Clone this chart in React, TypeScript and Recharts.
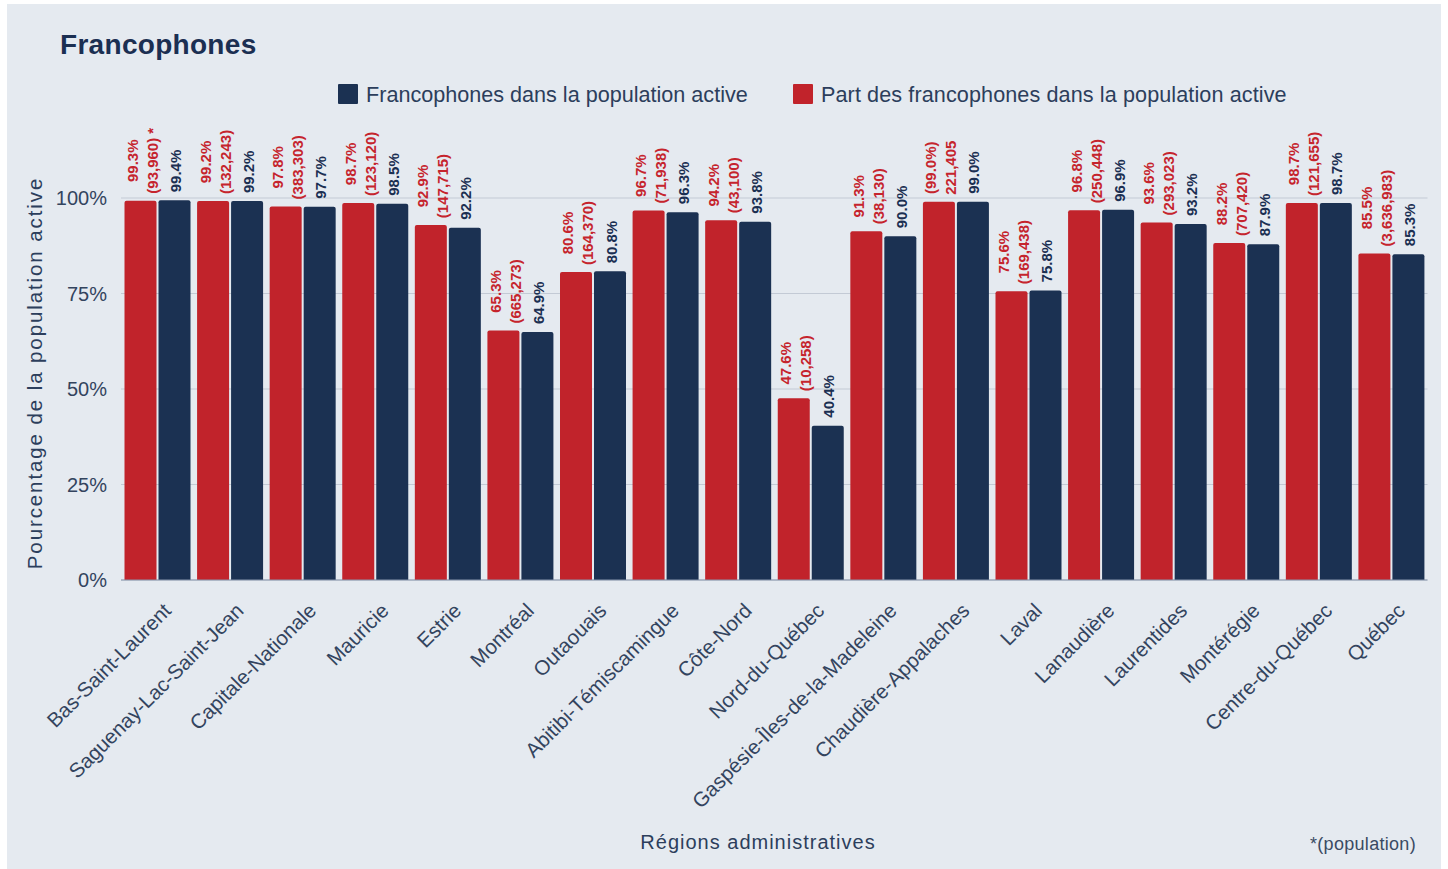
import React from 'react';
import { BarChart, Bar, XAxis, YAxis, CartesianGrid, LabelList } from 'recharts';

const regions = [
  'Bas-Saint-Laurent', 'Saguenay-Lac-Saint-Jean', 'Capitale-Nationale', 'Mauricie', 'Estrie',
  'Montréal', 'Outaouais', 'Abitibi-Témiscamingue', 'Côte-Nord', 'Nord-du-Québec',
  'Gaspésie-Îles-de-la-Madeleine', 'Chaudière-Appalaches', 'Laval', 'Lanaudière', 'Laurentides',
  'Montérégie', 'Centre-du-Québec', 'Québec',
];
const partValues = [99.3, 99.2, 97.8, 98.7, 92.9, 65.3, 80.6, 96.7, 94.2, 47.6, 91.3, 99.0, 75.6, 96.8, 93.6, 88.2, 98.7, 85.5];
const francoValues = [99.4, 99.2, 97.7, 98.5, 92.2, 64.9, 80.8, 96.3, 93.8, 40.4, 90.0, 99.0, 75.8, 96.9, 93.2, 87.9, 98.7, 85.3];
const partLine1 = ['99.3%', '99.2%', '97.8%', '98.7%', '92.9%', '65.3%', '80.6%', '96.7%', '94.2%', '47.6%', '91.3%', '(99.0%)', '75.6%', '96.8%', '93.6%', '88.2%', '98.7%', '85.5%'];
const partLine2 = ['(93,960) *', '(132,243)', '(383,303)', '(123,120)', '(147,715)', '(665,273)', '(164,370)', '(71,938)', '(43,100)', '(10,258)', '(38,130)', '221,405', '(169,438)', '(250,448)', '(293,023)', '(707,420)', '(121,655)', '(3,636,983)'];
const yTicks = [0, 25, 50, 75, 100];

const RED = '#c1232b';
const NAVY = '#1b3152';
const RED_TEXT = '#c5242d';
const NAVY_TEXT = '#1b2f52';
const AXIS_TEXT = '#33445e';
const FONT = "'Liberation Sans', Arial, Helvetica, sans-serif";
const LABEL_FONT_SIZE = 15;

const data = regions.map((r, i) => ({
  region: r,
  part: partValues[i],
  franco: francoValues[i],
  l1: partLine1[i],
  l2: partLine2[i],
  fl: `${francoValues[i].toFixed(1)}%`,
}));

let ctx: CanvasRenderingContext2D | null = null;
const measure = (s: string) => {
  if (typeof document === 'undefined') return s.length * 8;
  if (!ctx) ctx = document.createElement('canvas').getContext('2d');
  if (!ctx) return s.length * 8;
  ctx.font = `bold ${LABEL_FONT_SIZE}px 'Liberation Sans', Arial, sans-serif`;
  return ctx.measureText(s).width;
};

const GAP = 7;

const renderLine = (text: string, cx: number, cy: number, color: string, key: string) => (
  <text
    key={key}
    x={cx}
    y={cy}
    transform={`rotate(-90 ${cx} ${cy})`}
    textAnchor="middle"
    dominantBaseline="central"
    fill={color}
    fontSize={LABEL_FONT_SIZE}
    fontWeight={700}
    fontFamily={FONT}
  >
    {text}
  </text>
);

const RedLabel = (props: any) => {
  const { x, y, width, index } = props;
  const row = data[index];
  if (!row) return null;
  const bx = Number(x) + Number(width) / 2;
  const top = Number(y);
  const maxLen = Math.max(measure(row.l1), measure(row.l2));
  const cy = top - GAP - maxLen / 2;
  return (
    <g>
      {renderLine(row.l1, bx - 8, cy, RED_TEXT, 'a')}
      {renderLine(row.l2, bx + 12, cy, RED_TEXT, 'b')}
    </g>
  );
};

const NavyLabel = (props: any) => {
  const { x, y, width, value } = props;
  const bx = Number(x) + Number(width) / 2;
  const top = Number(y);
  const s = String(value);
  const cy = top - 8 - measure(s) / 2;
  return renderLine(s, bx + 1, cy, NAVY_TEXT, 'n');
};

const XTick = (props: any) => {
  const { x, y, payload } = props;
  const tx = Number(x) + 15;
  const ty = Number(y) + 32;
  return (
    <text
      x={tx}
      y={ty}
      transform={`rotate(-45 ${tx} ${ty})`}
      textAnchor="end"
      fill={AXIS_TEXT}
      fontSize={20.5}
      fontFamily={FONT}
    >
      {payload.value}
    </text>
  );
};

export default function App() {
  return (
    <div style={{ position: 'absolute', left: 0, top: 0, width: 1448, height: 869, fontFamily: FONT }}>
      <div style={{ position: 'absolute', left: 7, top: 4, width: 1434, height: 865, background: '#e5eaf0' }}>
        <BarChart
          width={1434}
          height={865}
          data={data}
          margin={{ top: 194, right: 13.5, bottom: 0, left: 0 }}
          barGap={2}
          barCategoryGap={3.5}
        >
          <CartesianGrid vertical={false} stroke="#c3cad5" strokeWidth={1} />
          <XAxis
            dataKey="region"
            interval={0}
            height={289}
            tickSize={0}
            tickMargin={0}
            tickLine={false}
            axisLine={{ stroke: '#8896ab', strokeWidth: 1.2 }}
            tick={<XTick />}
          />
          <YAxis
            width={114}
            domain={[0, 100]}
            ticks={yTicks}
            tickFormatter={(v: number) => `${v}%`}
            tickLine={false}
            axisLine={false}
            tickSize={0}
            tickMargin={14}
            tick={{ fill: AXIS_TEXT, fontSize: 20, fontFamily: FONT }}
          />
          <Bar dataKey="part" fill={RED} radius={[2, 2, 0, 0]} isAnimationActive={false}>
            <LabelList dataKey="l1" content={<RedLabel />} />
          </Bar>
          <Bar dataKey="franco" fill={NAVY} radius={[2, 2, 0, 0]} isAnimationActive={false}>
            <LabelList dataKey="fl" content={<NavyLabel />} />
          </Bar>
        </BarChart>
      </div>
      <svg
        width={1448}
        height={869}
        style={{ position: 'absolute', left: 0, top: 0, pointerEvents: 'none' }}
      >
        <text x={60} y={54} fontSize={28} letterSpacing={0.3} fontWeight={700} fill={NAVY_TEXT} fontFamily={FONT}>
          Francophones
        </text>
        <rect x={338} y={84} width={20} height={20} fill={NAVY} rx={1} />
        <text x={366} y={101.5} fontSize={21.6} fill="#2c3e5c" fontFamily={FONT}>
          Francophones dans la population active
        </text>
        <rect x={793} y={84} width={20} height={20} fill={RED} rx={1} />
        <text x={821} y={101.5} fontSize={21.6} letterSpacing={0.1} fill="#2c3e5c" fontFamily={FONT}>
          Part des francophones dans la population active
        </text>
        <text
          x={41.5}
          y={373}
          transform="rotate(-90 41.5 373)"
          textAnchor="middle"
          fontSize={20.5}
          letterSpacing={1.9}
          fill="#2c3e5c"
          fontFamily={FONT}
        >
          Pourcentage de la population active
        </text>
        <text x={758} y={849} textAnchor="middle" fontSize={20} letterSpacing={1} fill="#2c3e5c" fontFamily={FONT}>
          Régions administratives
        </text>
        <text x={1310} y={850} fontSize={18} letterSpacing={0.3} fill="#3a4a63" fontFamily={FONT}>
          *(population)
        </text>
      </svg>
    </div>
  );
}
